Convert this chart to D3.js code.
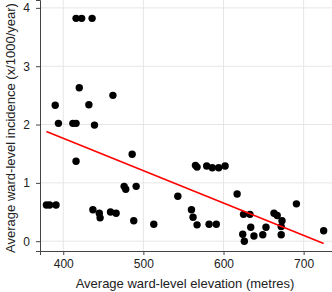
<!DOCTYPE html>
<html>
<head>
<meta charset="utf-8">
<script src="https://cdn.jsdelivr.net/npm/d3@7"></script>
<style>
  body { margin: 0; background: #fff; }
  svg { display: block; font-family: "Liberation Sans", Arial, sans-serif; }
</style>
</head>
<body>
<div id="chart"></div>
<script>
// elevation (m) of each ward
const elevation = [
  416, 423, 436, 420, 390, 432, 462, 394, 412, 416, 439,
  416, 486, 379, 383, 391, 476, 478, 491, 437, 445, 446,
  459, 466, 488, 513, 565, 567, 579, 586, 594, 602, 543,
  560, 562, 567, 582, 591, 617, 625, 633, 624, 626, 634,
  638, 649, 653, 663, 667, 673, 672, 672, 691, 725
];
// incidence (x/1000/year)
const incidence = [
  3.82, 3.82, 3.82, 2.63, 2.33, 2.34, 2.50, 2.02, 2.02, 2.02, 1.99,
  1.37, 1.49, 0.62, 0.62, 0.62, 0.94, 0.89, 0.94, 0.54, 0.48, 0.40,
  0.50, 0.48, 0.35, 0.29, 1.30, 1.27, 1.29, 1.26, 1.26, 1.29, 0.77,
  0.54, 0.41, 0.28, 0.29, 0.29, 0.81, 0.46, 0.46, 0.12, 0.00, 0.24,
  0.09, 0.11, 0.24, 0.48, 0.44, 0.35, 0.25, 0.11, 0.64, 0.18
];
// fitted trend line end points
const fitX = [379, 725];
const fitY = [1.88, -0.04];

const xTicks = [400, 500, 600, 700];
const yTicks = [0, 1, 2, 3, 4];

const width = 332, height = 292;
const margin = { top: 0, right: 0, bottom: 41, left: 40 };

const svg = d3.select("#chart").append("svg")
  .attr("width", width)
  .attr("height", height);

const x = d3.scaleLinear()
  .domain([371, 735.4])
  .range([margin.left, width - margin.right]);

const y = d3.scaleLinear()
  .domain([-0.168, 4.135])
  .range([height - margin.bottom, margin.top]);

// grid
svg.append("g")
  .selectAll("line")
  .data(xTicks)
  .join("line")
  .attr("x1", d => x(d)).attr("x2", d => x(d))
  .attr("y1", margin.top).attr("y2", height - margin.bottom)
  .attr("stroke", "#e6e6e6");

svg.append("g")
  .selectAll("line")
  .data(yTicks)
  .join("line")
  .attr("x1", margin.left).attr("x2", width - margin.right)
  .attr("y1", d => y(d)).attr("y2", d => y(d))
  .attr("stroke", "#e6e6e6");

// axes
const xAxis = svg.append("g")
  .attr("transform", `translate(0,${height - margin.bottom})`)
  .call(d3.axisBottom(x).tickValues(xTicks).tickFormat(d3.format("d")).tickSize(4).tickPadding(4));

const yAxis = svg.append("g")
  .attr("transform", `translate(${margin.left},0)`)
  .call(d3.axisLeft(y).tickValues(yTicks).tickFormat(d3.format("d")).tickSize(4).tickPadding(6));

[xAxis, yAxis].forEach(g => {
  g.select(".domain").attr("stroke", "#444");
  g.selectAll(".tick line").attr("stroke", "#444");
  g.selectAll(".tick text")
    .attr("fill", "#222")
    .style("font-size", "12px")
    .style("font-family", "'Liberation Sans', Arial, sans-serif");
});

// points
svg.append("g")
  .selectAll("circle")
  .data(elevation.map((e, i) => ({ e, v: incidence[i] })))
  .join("circle")
  .attr("cx", d => x(d.e))
  .attr("cy", d => y(d.v))
  .attr("r", 3.7)
  .attr("fill", "#000");

// trend line
svg.append("path")
  .datum(fitX.map((v, i) => [v, fitY[i]]))
  .attr("fill", "none")
  .attr("stroke", "#ff0000")
  .attr("stroke-width", 1.6)
  .attr("d", d3.line().x(d => x(d[0])).y(d => y(d[1])));

// titles
svg.append("text")
  .attr("x", 185)
  .attr("y", 288)
  .attr("text-anchor", "middle")
  .attr("fill", "#222")
  .style("font-size", "13px")
  .text("Average ward-level elevation (metres)");

svg.append("text")
  .attr("transform", "translate(15,128) rotate(-90)")
  .attr("text-anchor", "middle")
  .attr("fill", "#222")
  .style("font-size", "13px")
  .text("Average ward-level incidence (x/1000/year)");
</script>
</body>
</html>
